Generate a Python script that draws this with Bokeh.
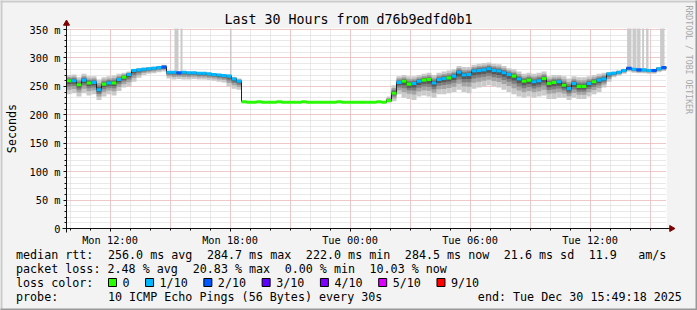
import math
import re
from datetime import datetime, timedelta

from bokeh.plotting import figure
from bokeh.models import Range1d, FixedTicker, DatetimeTickFormatter
from bokeh.core.properties import value
from bokeh.embed import file_html
from bokeh.resources import INLINE

# ---------------- data ----------------
END_TIME = datetime(2025, 12, 30, 15, 49, 18)
HOURS = 30
STEP_MIN = 15  # one sample every 15 minutes

median_ms = [
    260, 260, 253, 261, 256, 257, 244, 254, 256, 256,
    262, 266, 271, 278, 279, 280, 281, 282, 283, 284,
    275, 275, 274, 275, 274, 274, 273, 273, 272, 271,
    270, 269, 268, 263, 259,
    223, 222, 222, 223, 222, 222, 222, 223, 222, 222, 222, 222, 223, 222, 222,
    222, 222, 222, 222, 223, 222, 222, 222, 222, 222, 222, 222, 223, 222,
    225, 238, 257,
    259, 254, 255, 259, 261, 262, 256, 262, 264, 265, 268, 275, 270, 271, 277,
    278, 279, 281, 278, 277, 274, 271, 268, 263, 259, 261, 258, 260, 264, 255,
    257, 258, 252, 246, 255, 250, 250, 255, 258, 261, 263,
    272, 273, 275, 278, 282, 280, 279, 279, 278, 278, 281, 283,
]
min_ms = [
    236, 238, 232, 238, 234, 236, 226, 232, 236, 234, 242, 248,
    250, 258, 265, 270, 272, 273, 275, 276,
    264, 262, 263, 262, 262, 263, 262, 262, 261, 260, 258, 257, 250, 246, 244,
    223, 222, 222, 223, 222, 222, 222, 223, 222, 222, 222, 222, 223, 222, 222,
    222, 222, 222, 222, 223, 222, 222, 222, 222, 222, 222, 222, 223, 222,
    221, 224, 236,
    230, 228, 226, 232, 234, 232, 230, 236, 236, 238, 240, 244, 240, 238, 246,
    248, 250, 252, 250, 248, 244, 240, 236, 232, 230, 232, 230, 232, 234, 228,
    228, 230, 230, 226, 230, 228, 228, 232, 236, 240, 248,
    258, 266, 269, 272, 276, 274, 273, 273, 272, 272, 275, 277,
]
max_ms = [
    270, 271, 266, 272, 268, 268, 262, 266, 268, 269, 272, 274,
    276, 281, 282, 283, 284, 285, 286, 288,
    277, 277, 276, 277, 276, 276, 275, 275, 274, 273, 272, 271, 271, 267, 264,
    223, 222, 222, 223, 222, 222, 222, 223, 222, 222, 222, 222, 223, 222, 222,
    222, 222, 222, 222, 223, 222, 222, 222, 222, 222, 222, 222, 223, 222,
    232, 252, 268,
    270, 268, 268, 270, 272, 274, 270, 274, 276, 278, 280, 286, 284, 284, 288,
    290, 291, 292, 290, 289, 286, 282, 280, 276, 272, 274, 272, 274, 276, 268,
    270, 270, 268, 264, 268, 266, 266, 268, 270, 272, 274,
    275, 276, 278, 281, 285, 283, 282, 282, 281, 281, 284, 286,
]
loss_count = [
    0, 1, 0, 1, 0, 1, 1, 0, 1, 0, 1, 0,
    1, 1, 1, 1, 1, 1, 1, 2, 1, 1, 2, 1, 1, 1, 1, 1, 1, 1, 1, 1, 1, 1, 1,
    0, 0, 0, 0, 0, 0, 0, 0, 0, 0, 0, 0, 0, 0, 0,
    0, 0, 0, 0, 0, 0, 0, 0, 0, 0, 0, 0, 0, 0,
    0, 0, 1,
    0, 0, 1, 1, 0, 0, 1, 1, 1, 0,
    1, 1, 1, 1, 1, 1, 1, 1, 1, 1, 1, 1,
    0, 1, 0, 0, 1, 1, 0, 0, 0, 1,
    0, 1, 1, 0, 0, 1, 0, 1, 1,
    1, 1, 1, 1, 2, 1, 2, 1, 1, 2, 1, 2,
]
# samples whose slowest ping went off the top of the chart (hours after start)
spike_start_h = [5.40, 5.70, 8.18, 28.03, 28.30, 28.53, 28.78, 28.98, 29.68]
spike_end_h = [5.60, 5.80, 8.25, 28.25, 28.50, 28.70, 28.88, 29.10, 29.90]

y_ticks = [0, 50, 100, 150, 200, 250, 300, 350]
y_tick_labels = ["0", "50 m", "100 m", "150 m", "200 m", "250 m", "300 m", "350 m"]
x_tick_times = ["2025-12-29 12:00", "2025-12-29 18:00", "2025-12-30 00:00",
                "2025-12-30 06:00", "2025-12-30 12:00"]
x_tick_labels = ["Mon 12:00", "Mon 18:00", "Tue 00:00", "Tue 06:00", "Tue 12:00"]

loss_levels = ["0", "1/10", "2/10", "3/10", "4/10", "5/10", "9/10"]
loss_colors = ["#26ff00", "#00b8ff", "#0059ff", "#5e00ff", "#7e00ff", "#dd00ff", "#ff0000"]

title_text = "Last 30 Hours from d76b9edfd0b1"
line_rtt = "median rtt:  256.0 ms avg  284.7 ms max  222.0 ms min  284.5 ms now  21.6 ms sd  11.9   am/s"
line_loss = "packet loss: 2.48 % avg  20.83 % max  0.00 % min  10.03 % now"
line_color_lbl = "loss color:"
line_probe = "probe:       10 ICMP Echo Pings (56 Bytes) every 30s"
line_end = "end: Tue Dec 30 15:49:18 2025"

# ---------------- layout ----------------
W, H = 697, 310
FL, FT, FW, FH = 66, 28, 600, 200
YMAX = 351.8
MONO = "DejaVu Sans Mono"

EPOCH = datetime(1970, 1, 1)


def ms(dt):
    return (dt - EPOCH).total_seconds() * 1000.0


start = END_TIME - timedelta(hours=HOURS)
x0, x1 = ms(start), ms(END_TIME)
span = x1 - x0


def X(px):
    return x0 + (px - FL) / FW * span


def Y(py):
    return (FT + FH - py) / FH * YMAX


p = figure(frame_width=FW, frame_height=FH,
           min_border_left=FL, min_border_right=W - FL - FW,
           min_border_top=FT, min_border_bottom=H - FT - FH,
           x_axis_type="datetime", x_range=Range1d(x0, x1), y_range=Range1d(0, YMAX),
           output_backend="svg", toolbar_location=None,
           background_fill_color="white", border_fill_color="#F3F3F3",
           outline_line_color=None)

# grids
hour_ms = 3600 * 1000.0
first_hour = ms(datetime(2025, 12, 29, 10, 0))
hours_list = [first_hour + k * hour_ms for k in range(30) if first_hour + k * hour_ms <= x1]
three_h = [t for t in hours_list if round((t - first_hour) / hour_ms) % 3 == 2]
p.xgrid.ticker = FixedTicker(ticks=three_h, minor_ticks=hours_list)
p.ygrid.ticker = FixedTicker(ticks=y_ticks, minor_ticks=list(range(0, 351, 10)))
for g in (p.xgrid[0], p.ygrid[0]):
    g.grid_line_color = "#F2A8A8"
    g.grid_line_dash = "1 1"
    g.grid_line_width = 1
    g.minor_grid_line_color = "#D2D2D2"
    g.minor_grid_line_dash = "1 1"
    g.minor_grid_line_width = 1

# axes
xt = [ms(datetime.strptime(s, "%Y-%m-%d %H:%M")) for s in x_tick_times]
xa = p.xaxis[0]
xa.ticker = FixedTicker(ticks=xt, minor_ticks=hours_list)
xa.formatter = DatetimeTickFormatter(hours="%a %H:%M", days="%a %H:%M", minutes="%a %H:%M")
xa.major_label_overrides = {t: l for t, l in zip(xt, x_tick_labels)}
ya = p.yaxis[0]
ya.ticker = FixedTicker(ticks=y_ticks, minor_ticks=list(range(0, 351, 10)))
ya.major_label_overrides = {t: l for t, l in zip(y_ticks, y_tick_labels)}
for ax in (xa, ya):
    ax.axis_line_color = "#101010"
    ax.major_tick_line_color = "#101010"
    ax.minor_tick_line_color = "#101010"
    ax.major_tick_in = 0
    ax.minor_tick_in = 0
    ax.major_tick_out = 3
    ax.minor_tick_out = 2
    ax.major_label_text_font = MONO
    ax.major_label_text_font_size = "10.3px"
    ax.major_label_text_color = "black"
xa.major_label_standoff = 2
ya.major_label_standoff = 3

# ---------------- smoke ----------------
n = len(median_ms)
step = STEP_MIN * 60 * 1000.0
edges = [x0 + i * step for i in range(n + 1)]
left, right = edges[:-1], edges[1:]

smoke_gray = ["#cacaca", "#a4a4a4", "#7e7e7e", "#585858", "#323232"]
frac = [1.0, 0.66, 0.42, 0.24, 0.09]


def layer(k):
    lo = [m - frac[k] * (m - a) for m, a in zip(median_ms, min_ms)]
    hi = [m + frac[k] * (b - m) for m, b in zip(median_ms, max_ms)]
    return lo, hi


lo0, hi0 = layer(0)
p.quad(left=left, right=right, bottom=lo0, top=hi0, fill_color=smoke_gray[0], line_color=None)

# spikes (slowest ping above chart top)
sp_left = [x0 + h * hour_ms for h in spike_start_h]
sp_right = [x0 + h * hour_ms for h in spike_end_h]
sp_bottom = [median_ms[min(n - 1, int(h * 60 // STEP_MIN))] for h in spike_start_h]
p.quad(left=sp_left, right=sp_right, bottom=sp_bottom, top=[YMAX + 20] * len(sp_left),
       fill_color=smoke_gray[0], line_color=None)

for k in range(1, 5):
    lo, hi = layer(k)
    p.quad(left=left, right=right, bottom=lo, top=hi, fill_color=smoke_gray[k], line_color=None)

# median line
p.step(x=edges, y=median_ms + [median_ms[-1]], mode="after", line_color="#202020", line_width=1)


def loss_index(c):
    if c <= 5:
        return c
    return 6 if c >= 9 else 5


band_colors = [loss_colors[loss_index(c)] for c in loss_count]
p.quad(left=left, right=right, bottom=[m - 2.7 for m in median_ms],
       top=[m + 2.7 for m in median_ms], fill_color=band_colors, line_color=None)

# axis extensions and arrow heads (drawn above the frame so they are not clipped)
p.segment(x0=[X(62), x0], y0=[0, Y(232)], x1=[X(670), x0], y1=[0, Y(23)],
          line_color="#101010", line_width=1, level="overlay")
p.scatter(x=[X(671), x0], y=[0, Y(23)], marker="triangle", size=6,
          angle=[-math.pi / 2, 0.0], fill_color="#800000", line_color="#800000",
          level="overlay")


# ---------------- texts ----------------
def add_text(px, py, txt, size="11.7px", align="left", angle=0.0, color="black"):
    p.text(x=[X(px)], y=[Y(py)], text=[txt], text_font=value(MONO), text_font_size=size,
           text_align=align, text_baseline="middle", angle=angle, text_color=color,
           level="overlay")


CH = 7.07  # advance of one monospace character at 11.7px


def add_line(px, py, line):
    # runs of several spaces are column padding: place each chunk at its column
    for m in re.finditer(r"\S+(?: \S+)*", line):
        add_text(px + m.start() * CH, py, m.group())


add_text(348, 19, title_text, size="13.3px", align="center")
add_text(11.5, 128, "Seconds", align="center", angle=math.pi / 2)
add_text(688.5, 5, "RRDTOOL / TOBI OETIKER", size="8.2px", angle=-math.pi / 2,
         color="#a8a8a8")

add_line(15.5, 254, line_rtt)
add_line(15.5, 268, line_loss)
add_line(15.5, 282, line_color_lbl)
add_line(15.5, 296, line_probe)
add_text(681.4, 296, line_end, align="right")

# loss colour legend boxes
bx = 108.0
box_x, box_c = [], []
for lbl, col in zip(loss_levels, loss_colors):
    box_x.append(X(bx + 4))
    box_c.append(col)
    add_text(bx + 14, 282, lbl)
    bx = bx + 14 + len(lbl) * CH + 16
p.rect(x=box_x, y=[Y(282)] * len(box_x), width=8, height=8,
       width_units="screen", height_units="screen",
       fill_color=box_c, line_color="black", line_width=1, level="overlay")

# 3-D frame round the image
p.segment(x0=[X(0), X(1)], y0=[Y(1), Y(0)], x1=[X(W), X(1)], y1=[Y(1), Y(H)],
          line_color="#CBCBCB", line_width=2, level="overlay")
p.segment(x0=[X(0), X(W - 1)], y0=[Y(H - 1), Y(0)], x1=[X(W), X(W - 1)], y1=[Y(H - 1), Y(H)],
          line_color="#999999", line_width=2, level="overlay")

open("out.html", "w").write(file_html(p, INLINE))
